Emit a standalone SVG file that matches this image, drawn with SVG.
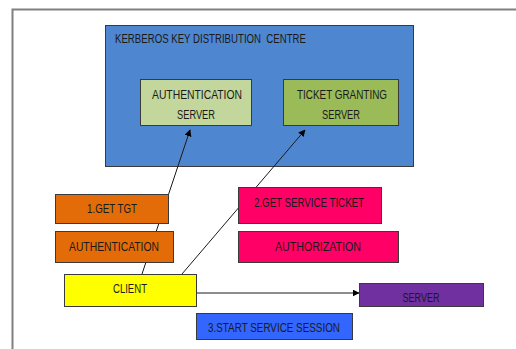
<svg xmlns="http://www.w3.org/2000/svg" width="516" height="349" viewBox="0 0 516 349">
<defs>
<marker id="ah" viewBox="0 0 10 10" refX="9" refY="5" markerWidth="7" markerHeight="7" markerUnits="userSpaceOnUse" orient="auto">
<path d="M0,0 L10,5 L0,10 z" fill="#000"/>
</marker>
<style>
.box{stroke:#3a3a3a;stroke-width:1}
text{font-family:"Liberation Sans",Arial,sans-serif;font-size:12px;fill:#1a1a1a;text-anchor:middle}
.conn{stroke:#1a1a1a;stroke-width:1;fill:none}
</style>
</defs>
<rect width="516" height="349" fill="#fff"/>
<path d="M12.5,349 V9.5 H516" fill="none" stroke="#808080" stroke-width="2"/>
<g id="kdc">
<rect class="box" x="105.5" y="25.5" width="308" height="141" fill="#4f86d0"/>
<text x="115" y="43" style="text-anchor:start" textLength="191" lengthAdjust="spacingAndGlyphs">KERBEROS KEY DISTRIBUTION&#160; CENTRE</text>
</g>
<g id="auth-server">
<rect class="box" x="140.5" y="79.5" width="111" height="46" fill="#c3d69b"/>
<text x="197" y="99" textLength="90" lengthAdjust="spacingAndGlyphs">AUTHENTICATION</text>
<text x="196" y="119" textLength="38" lengthAdjust="spacingAndGlyphs">SERVER</text>
</g>
<g id="tgs">
<rect class="box" x="283.5" y="79.5" width="115" height="46" fill="#9bbb59"/>
<text x="342" y="99" textLength="90" lengthAdjust="spacingAndGlyphs">TICKET GRANTING</text>
<text x="341" y="119" textLength="38" lengthAdjust="spacingAndGlyphs">SERVER</text>
</g>
<g id="connectors">
<line class="conn" x1="142" y1="274" x2="190" y2="130" marker-end="url(#ah)"/>
<line class="conn" x1="182" y1="274" x2="305" y2="130" marker-end="url(#ah)"/>
<line class="conn" x1="196" y1="293" x2="359" y2="293" marker-end="url(#ah)"/>
</g>
<g id="get-tgt">
<rect class="box" x="55.5" y="194.5" width="113" height="29" fill="#e36c09"/>
<text x="112" y="213" textLength="50" lengthAdjust="spacingAndGlyphs">1.GET TGT</text>
</g>
<g id="authentication">
<rect class="box" x="55.5" y="231.5" width="118" height="31" fill="#e36c09"/>
<text x="114" y="251" textLength="90" lengthAdjust="spacingAndGlyphs">AUTHENTICATION</text>
</g>
<g id="get-service-ticket">
<rect class="box" x="238.5" y="187.5" width="143" height="36" fill="#ff0066"/>
<text x="309" y="207" textLength="110" lengthAdjust="spacingAndGlyphs">2.GET SERVICE TICKET</text>
</g>
<g id="authorization">
<rect class="box" x="238.5" y="231.5" width="160" height="31" fill="#ff0066"/>
<text x="318" y="251" textLength="86" lengthAdjust="spacingAndGlyphs">AUTHORIZATION</text>
</g>
<g id="client">
<rect class="box" x="64.5" y="274.5" width="132" height="32" fill="#ffff00"/>
<text x="130" y="293" textLength="34" lengthAdjust="spacingAndGlyphs">CLIENT</text>
</g>
<g id="server">
<rect class="box" x="359.5" y="283.5" width="124" height="23" fill="#7030a0"/>
<text x="421" y="302" textLength="37" lengthAdjust="spacingAndGlyphs">SERVER</text>
</g>
<g id="start-service-session">
<rect class="box" x="196.5" y="313.5" width="156" height="26" fill="#3366ff"/>
<text x="274" y="332" textLength="132" lengthAdjust="spacingAndGlyphs">3.START SERVICE SESSION</text>
</g>
</svg>
